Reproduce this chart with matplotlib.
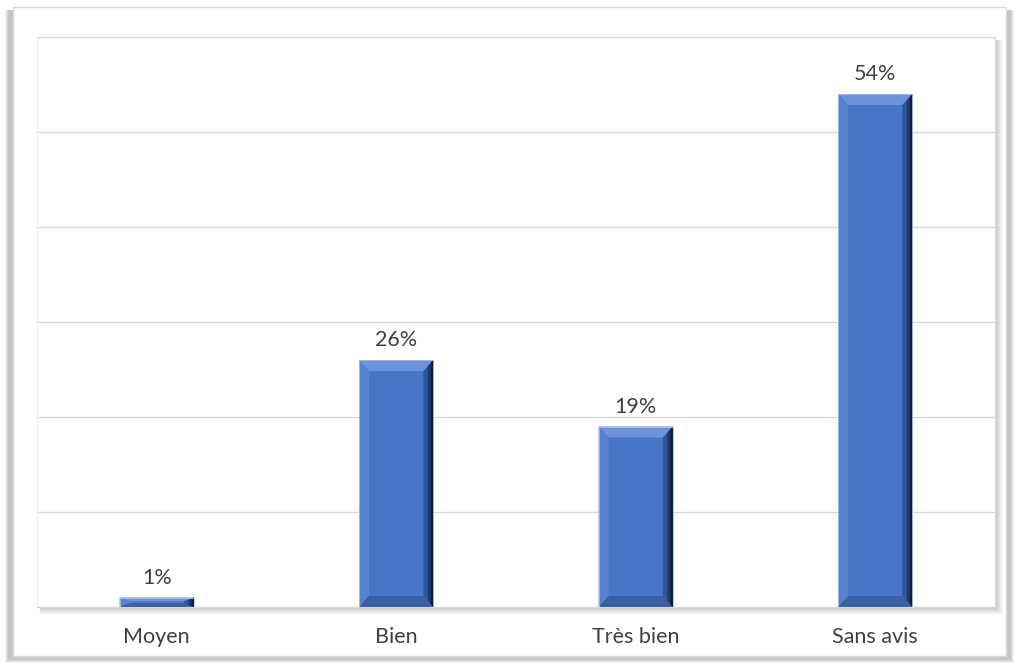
import matplotlib
matplotlib.use("Agg")
import matplotlib.pyplot as plt
from matplotlib.patches import Rectangle, Polygon

categories = ["Moyen", "Bien", "Très bien", "Sans avis"]
values = [1, 26, 19, 54]
labels = ["1%", "26%", "19%", "54%"]

W, H = 1019, 668
fig = plt.figure(figsize=(W / 100, H / 100), dpi=100)
fig.patch.set_facecolor("white")


def fbox(x0, y0, x1, y1, **kw):
    # rectangle given in pixel coords (top-left origin) -> figure fraction
    return Rectangle((x0 / W, 1 - y1 / H), (x1 - x0) / W, (y1 - y0) / H,
                     transform=fig.transFigure, zorder=-10, **kw)


# outer frame with soft shadow on left, right and bottom
for i, c in enumerate(["#f2f2f2", "#e4e4e4", "#d4d4d4", "#c6c6c6"]):
    d = 4 - i
    fig.patches.append(fbox(9 - d, 10, 1011 + d - 1, 659 + d, facecolor=c, edgecolor="none"))
fig.patches.append(fbox(13, 7, 1006, 656, facecolor="white", edgecolor="#dadada", lw=1))

# plot area shadow
for i, c in enumerate(["#eeeeee", "#e0e0e0", "#cfcfcf"]):
    d = 7 - 2 * i
    fig.patches.append(fbox(40, 40, 995 + d, 607 + d, facecolor=c, edgecolor="none"))

ax = fig.add_axes([37 / W, 1 - 607 / H, (995 - 37) / W, (607 - 37) / H])
ax.set_zorder(5)
ax.set_facecolor("white")
ax.set_xlim(-0.5, 3.5)
ax.set_ylim(0, 60)
ax.set_yticks(range(0, 70, 10))
ax.yaxis.grid(True, color="#d9d9d9", lw=1)
ax.set_axisbelow(True)
ax.tick_params(left=False, bottom=False, labelleft=False)
for s in ax.spines.values():
    s.set_color("#d9d9d9")
ax.spines["left"].set_color("#f0f0f0")

x = list(range(len(categories)))
width = 0.31
bars = ax.bar(x, values, width=width, color="#4775c8", zorder=2)

# bevel size in px converted to data units
bx = 10 / ((995 - 37) / 4)
by = 11 / ((607 - 37) / 60)
for b in bars:
    x0, x1 = b.get_x(), b.get_x() + b.get_width()
    y0, y1 = 0, b.get_height()
    dy = min(by, (y1 - y0) / 2.5)
    dx = bx
    faces = [
        ([(x0, y1), (x1, y1), (x1 - dx, y1 - dy), (x0 + dx, y1 - dy)], "#6d94da"),
        ([(x0, y0), (x0, y1), (x0 + dx, y1 - dy), (x0 + dx, y0 + dy)], "#5782d0"),
        ([(x1, y0), (x1, y1), (x1 - dx, y1 - dy), (x1 - dx, y0 + dy)], "#31549a"),
        ([(x0, y0), (x1, y0), (x1 - dx, y0 + dy), (x0 + dx, y0 + dy)], "#3a5fa6"),
        ([(x1, y0), (x1, y1), (x1 - dx * 0.55, y1 - dy * 0.55), (x1 - dx * 0.55, y0 + dy * 0.55)], "#20386a"),
        ([(x1, y0), (x1, y1), (x1 - dx * 0.25, y1 - dy * 0.25), (x1 - dx * 0.25, y0 + dy * 0.25)], "#101e3a"),
    ]
    for pts, col in faces:
        ax.add_patch(Polygon(pts, closed=True, facecolor=col, edgecolor="none", zorder=3))
    ax.add_patch(Rectangle((x0, y0), x1 - x0, y1 - y0, facecolor="none",
                           edgecolor="#a9bde6", lw=0.6, zorder=4))

font = "Lato"
for xi, v, lab in zip(x, values, labels):
    ax.annotate(lab, (xi, v), xytext=(0, 7), textcoords="offset points",
                ha="center", va="bottom", fontsize=15.5, color="#404040", family=font)

ax.set_xticks(x)
ax.set_xticklabels(categories, fontsize=15.5, color="#404040", family=font)
ax.tick_params(axis="x", pad=11)

fig.savefig("out.png", dpi=100)
